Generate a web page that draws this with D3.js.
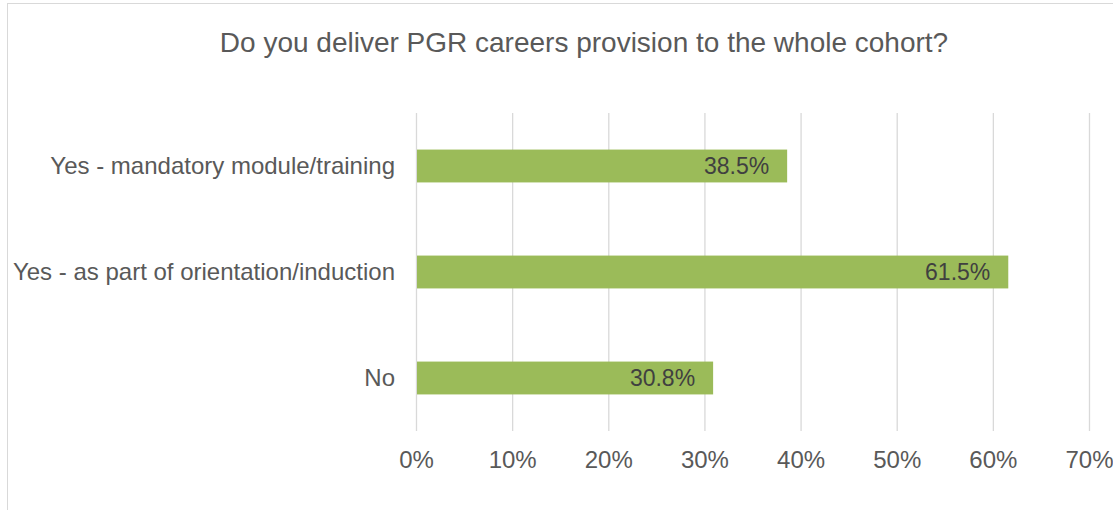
<!DOCTYPE html>
<html>
<head>
<meta charset="utf-8">
<script src="https://cdn.jsdelivr.net/npm/d3@7"></script>
<style>
 body { margin: 0; background: #fff; }
 text { font-family: "Liberation Sans", Arial, sans-serif; }
</style>
</head>
<body>
<div id="chart-area"></div>
<script>
// data
var categories = ["Yes - mandatory module/training", "Yes - as part of orientation/induction", "No"];
var values = [38.5, 61.5, 30.8];
var xTicks = [0, 10, 20, 30, 40, 50, 60, 70];
var title = "Do you deliver PGR careers provision to the whole cohort?";

var W = 1113, H = 510;
var margin = {top: 113, right: 24, bottom: 79, left: 416},
 width = W - margin.left - margin.right,
 height = H - margin.top - margin.bottom;

var root = d3.select("#chart-area")
 .append("svg")
 .attr("width", W)
 .attr("height", H);

// chart border (cropped on right / bottom)
root.append("rect")
 .attr("x", 7.5).attr("y", 3.5)
 .attr("width", W + 10).attr("height", H + 10)
 .attr("fill", "none")
 .attr("stroke", "#d9d9d9")
 .attr("stroke-width", 1);

root.append("text")
 .attr("x", 584)
 .attr("y", 52)
 .attr("text-anchor", "middle")
 .attr("font-size", "28px")
 .attr("fill", "#595959")
 .text(title);

var svg = root.append("g")
 .attr("transform", `translate(${margin.left}, ${margin.top})`);

var x = d3.scaleLinear()
 .domain([0, 70])
 .range([0, 673]);

var y = d3.scaleBand()
 .domain(categories)
 .range([0, 318])
 .paddingInner(0.69)
 .paddingOuter(0.345);

// gridlines
svg.append("g")
 .selectAll("line")
 .data(xTicks)
 .enter()
 .append("line")
 .attr("x1", d => x(d) + 0.5)
 .attr("x2", d => x(d) + 0.5)
 .attr("y1", 0)
 .attr("y2", 318)
 .attr("stroke", "#d9d9d9")
 .attr("stroke-width", 1.3);

// x axis labels
var xAxis = d3.axisBottom(x)
 .tickValues(xTicks)
 .tickSize(0)
 .tickPadding(20)
 .tickFormat(d => d + "%");

svg.append("g")
 .attr("transform", `translate(0, 318)`)
 .call(xAxis)
 .call(g => g.select(".domain").remove())
 .selectAll("text")
 .attr("font-size", "24px")
 .attr("font-family", "Liberation Sans, Arial, sans-serif")
 .attr("fill", "#595959");

// y axis labels
var yAxis = d3.axisLeft(y)
 .tickSize(0)
 .tickPadding(21);

svg.append("g")
 .call(yAxis)
 .call(g => g.select(".domain").remove())
 .selectAll("text")
 .attr("font-size", "24px")
 .attr("font-family", "Liberation Sans, Arial, sans-serif")
 .attr("fill", "#595959");

// bars
var data = categories.map((c, i) => ({name: c, value: values[i]}));

svg.append("g")
 .selectAll("rect")
 .data(data)
 .enter()
 .append("rect")
 .attr("x", x(0) + 1)
 .attr("y", d => y(d.name))
 .attr("width", d => x(d.value) - x(0))
 .attr("height", y.bandwidth())
 .attr("fill", "#9bbb59");

// data labels
svg.append("g")
 .selectAll("text")
 .data(data)
 .enter()
 .append("text")
 .attr("x", d => x(d.value) - 17)
 .attr("y", d => y(d.name) + y.bandwidth() / 2)
 .attr("dy", "0.35em")
 .attr("text-anchor", "end")
 .attr("font-size", "23px")
 .attr("fill", "#404040")
 .text(d => d.value.toFixed(1) + "%");
</script>
</body>
</html>
